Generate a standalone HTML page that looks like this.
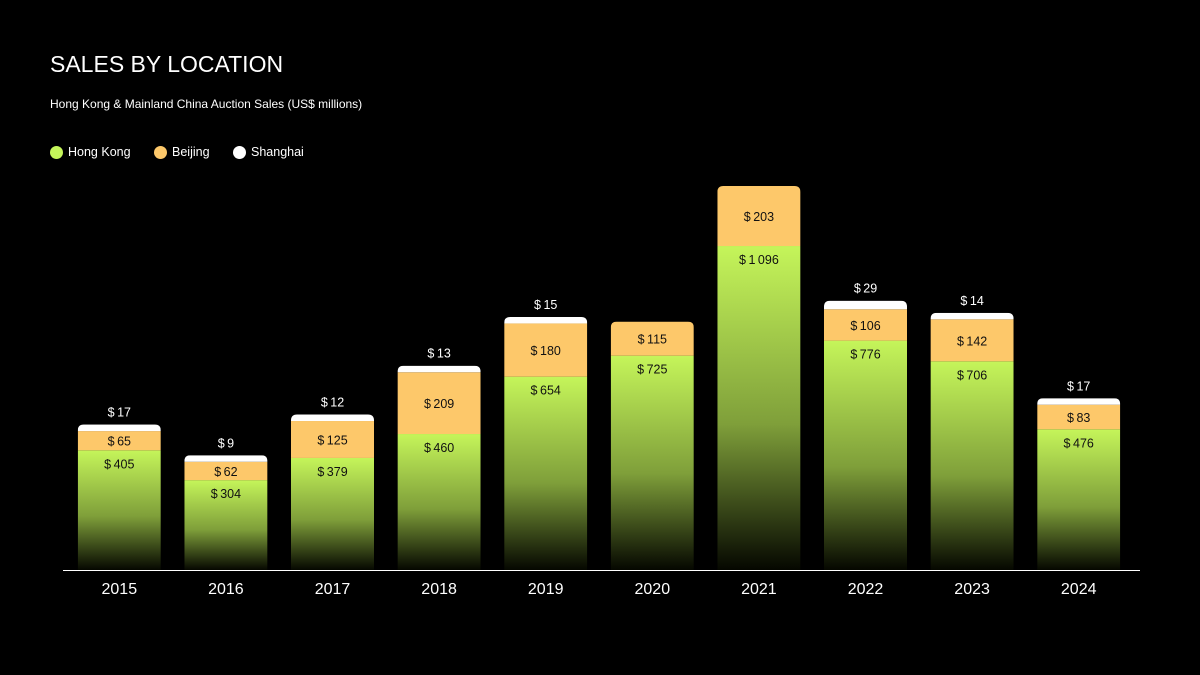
<!DOCTYPE html>
<html><head><meta charset="utf-8"><style>
body{margin:0;background:#000;width:1200px;height:675px;overflow:hidden;font-family:"Liberation Sans",sans-serif;color:#fff}
.t{position:absolute;left:50px;top:51px;font-size:23px}
.s{position:absolute;left:50px;top:97px;font-size:12px}
.lg{position:absolute;top:145px;font-size:12.5px;display:flex;align-items:center}
.dot{width:13px;height:13px;border-radius:50%;margin-right:5px;display:inline-block}
</style></head><body>
<div class="t">SALES BY LOCATION</div>
<div class="s">Hong Kong &amp; Mainland China Auction Sales (US$ millions)</div>
<div class="lg" style="left:50px"><span class="dot" style="background:#c5f55a"></span>Hong Kong</div>
<div class="lg" style="left:154px"><span class="dot" style="background:#fdc86a"></span>Beijing</div>
<div class="lg" style="left:233px"><span class="dot" style="background:#fff"></span>Shanghai</div>
<svg id="c" width="1200" height="675" style="position:absolute;left:0;top:0">
<defs><linearGradient id="g" x1="0" y1="0" x2="0" y2="1"><stop offset="0" stop-color="#c5f55a"/><stop offset="0.55" stop-color="#7f9f3a"/><stop offset="1" stop-color="#050700"/></linearGradient></defs>
</svg>
<script>
const years=['2015','2016','2017','2018','2019','2020','2021','2022','2023','2024'];
const hk=[405,304,379,460,654,725,1096,776,706,476];
const bj=[65,62,125,209,180,115,203,106,142,83];
const sh=[17,9,12,13,15,0,0,29,14,17];
const svg=document.getElementById('c');const NS='http://www.w3.org/2000/svg';
const base=570,scale=384/1299,x0=66,step=106.6,bw=83;
const y=v=>base-v*scale;const xc=i=>x0+step*(i+0.5);
function el(t,a){const e=document.createElementNS(NS,t);for(const k in a)e.setAttribute(k,a[k]);svg.appendChild(e);return e;}
function fmt(v){return '$\u2009'+(v>=1000?Math.floor(v/1000)+'\u2009'+String(v%1000).padStart(3,'0'):v);}
function txt(s,x,yy,fill,sz,nm){const t=el('text',{x:x,y:yy,'text-anchor':'middle',fill:fill,'font-size':sz,'font-family':'Liberation Sans, sans-serif'});t.textContent=s;return t;}
years.forEach((yr,i)=>{
 const l=xc(i)-bw/2;
 const bjTop=y(hk[i]+bj[i]);
 const shH=sh[i]>0?Math.max(sh[i]*scale,6.5):0;
 const top=bjTop-shH,rr=6;
 const cp=el('clipPath',{id:'cp'+i});
 const r=document.createElementNS(NS,'path');
 r.setAttribute('d',`M${l},${base}V${top+rr}Q${l},${top} ${l+rr},${top}H${l+bw-rr}Q${l+bw},${top} ${l+bw},${top+rr}V${base}Z`);
 cp.appendChild(r);
 const g=el('g',{'clip-path':'url(#cp'+i+')'});
 
 function rect(yt,yb,fill,nm){const e=document.createElementNS(NS,'rect');e.setAttribute('x',l);e.setAttribute('y',yt);e.setAttribute('width',bw);e.setAttribute('height',yb-yt);e.setAttribute('fill',fill);g.appendChild(e);}
 rect(y(hk[i]),base,'url(#g)','bar-hong-kong-'+yr);
 rect(bjTop,y(hk[i]),'#fdc86a','bar-beijing-'+yr);
 if(sh[i]>0)rect(top,bjTop,'#ffffff','bar-shanghai-'+yr);
 txt(fmt(hk[i]),xc(i),y(hk[i])+18,'#111',12.5,'label-hong-kong-'+yr);
 txt(fmt(bj[i]),xc(i),(y(hk[i])+bjTop)/2+5,'#111',12.5,'label-beijing-'+yr);
 if(sh[i]>0)txt(fmt(sh[i]),xc(i),top-8,'#fff',12.5,'label-shanghai-'+yr);
 txt(yr,xc(i),594,'#fff',16,'x-tick-'+yr);
});
const ax=el('line',{x1:63,x2:1140,y1:570.5,y2:570.5,stroke:'#fff','stroke-width':1});

</script>
</body></html>
